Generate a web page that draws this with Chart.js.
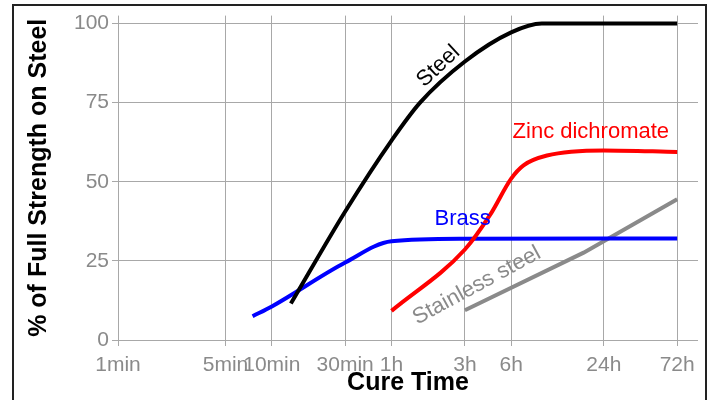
<!DOCTYPE html>
<html>
<head>
<meta charset="utf-8">
<script src="https://cdn.jsdelivr.net/npm/chart.js@4"></script>
<style>
  html, body { margin: 0; padding: 0; background: #fff; overflow: hidden; }
  #wrap { position: relative; width: 715px; height: 400px; }
  #frame { position: absolute; left: 12px; top: 4px; width: 695px; height: 420px; border: 2px solid #222; box-sizing: border-box; pointer-events: none; }
  canvas { position: absolute; left: 0; top: 0; }
</style>
</head>
<body>
<div id="wrap">
  <canvas id="cureChart" width="715" height="400"></canvas>
  <div id="frame"></div>
</div>
<script>
// cure time in minutes (log axis)
const xTicks = [1, 5, 10, 30, 60, 180, 360, 1440, 4320];
const xTickLabels = ['1min', '5min', '10min', '30min', '1h', '3h', '6h', '24h', '72h'];
const yTicks = [0, 25, 50, 75, 100];

const steelTime = [13.3, 30, 60, 92, 180, 360, 569, 4320];
const steelPct  = [11.5, 40.6, 63, 75, 88, 97.2, 100, 100];

const zincTime = [60, 180, 263, 360, 433, 615, 1440, 4320];
const zincPct  = [9.2, 28.6, 39.6, 51, 55.2, 58.3, 59.9, 59.4];

const brassTime = [7.5, 10, 30, 60, 180, 4320];
const brassPct  = [7.5, 10.6, 24.5, 31.2, 32, 32.1];

const stainlessTime = [180, 1065, 4320];
const stainlessPct  = [9.4, 27.6, 44.5];

const seriesNames = ['Steel', 'Zinc dichromate', 'Brass', 'Stainless steel'];

const FONT = '"Liberation Sans", Arial, sans-serif';
const GRID = '#a8a8a8';
const TICK = '#8a8a8a';

function pts(xs, ys) {
  return xs.map((x, i) => ({ x: x, y: ys[i] }));
}

// where the in-plot series names sit (data coordinates)
const seriesLabels = [
  { text: seriesNames[0], t: 121, v: 86.5, angle: -43, color: '#000000' },
  { text: seriesNames[1], t: 1186, v: 65.6, angle: 0, color: '#ff0000' },
  { text: seriesNames[2], t: 174, v: 38.1, angle: 0, color: '#0000ff' },
  { text: seriesNames[3], t: 215, v: 17.2, angle: -28.5, color: '#8a8a8a' }
];

const labelPlugin = {
  id: 'seriesLabels',
  afterDatasetsDraw(chart) {
    const ctx = chart.ctx;
    const xs = chart.scales.x, ys = chart.scales.y;
    ctx.save();
    ctx.font = '22px ' + FONT;
    ctx.textAlign = 'center';
    ctx.textBaseline = 'middle';
    seriesLabels.forEach(l => {
      ctx.save();
      ctx.translate(xs.getPixelForValue(l.t), ys.getPixelForValue(l.v));
      ctx.rotate(l.angle * Math.PI / 180);
      ctx.fillStyle = l.color;
      ctx.fillText(l.text, 0, 0);
      ctx.restore();
    });
    ctx.restore();
  }
};

const lineStyle = { borderWidth: 4, pointRadius: 0, fill: false, cubicInterpolationMode: 'monotone' };

new Chart(document.getElementById('cureChart').getContext('2d'), {
  type: 'line',
  data: {
    datasets: [
      Object.assign({ label: seriesNames[0], data: pts(steelTime, steelPct), borderColor: '#000000' }, lineStyle),
      Object.assign({ label: seriesNames[1], data: pts(zincTime, zincPct), borderColor: '#ff0000' }, lineStyle),
      Object.assign({ label: seriesNames[2], data: pts(brassTime, brassPct), borderColor: '#0000ff' }, lineStyle),
      Object.assign({ label: seriesNames[3], data: pts(stainlessTime, stainlessPct), borderColor: '#8a8a8a' }, lineStyle, { cubicInterpolationMode: 'default', tension: 0 })
    ]
  },
  options: {
    responsive: false,
    animation: false,
    devicePixelRatio: 1,
    layout: { padding: { top: 12, right: 17, left: 0, bottom: 0 } },
    plugins: { legend: { display: false }, tooltip: { enabled: false } },
    scales: {
      x: {
        type: 'logarithmic',
        min: 1,
        max: 5900,
        afterBuildTicks: s => { s.ticks = xTicks.map(v => ({ value: v })); },
        afterFit: s => { s.height = 60; },
        border: { display: false },
        grid: { color: GRID, lineWidth: 1, tickLength: 6 },
        ticks: {
          autoSkip: false, maxRotation: 0, color: TICK, padding: 7,
          font: { family: FONT, size: 21 },
          callback: v => xTickLabels[xTicks.indexOf(v)]
        },
        title: { display: true, text: 'Cure Time', color: '#000', font: { family: FONT, size: 25, weight: 'bold' }, padding: { top: 0, bottom: 2 } }
      },
      y: {
        min: 0,
        max: 102.5,
        afterBuildTicks: s => { s.ticks = yTicks.map(v => ({ value: v })); },
        afterFit: s => { s.width = 118; },
        border: { display: false },
        grid: { color: GRID, lineWidth: 1, tickLength: 6 },
        ticks: { color: TICK, padding: 3, font: { family: FONT, size: 21 } },
        title: { display: true, text: '% of Full Strength on Steel', color: '#000', font: { family: FONT, size: 25, weight: 'bold' }, padding: { top: 24, bottom: 0 } }
      }
    }
  },
  plugins: [labelPlugin]
});
</script>
</body>
</html>
